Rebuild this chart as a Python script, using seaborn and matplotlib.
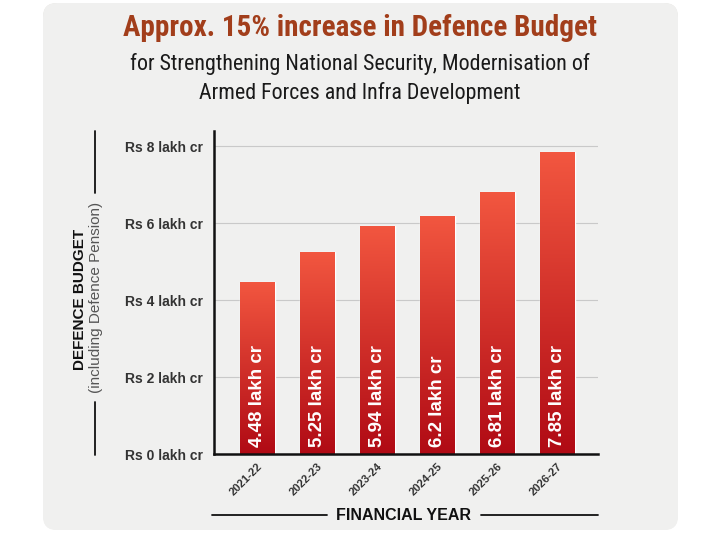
import numpy as np
import pandas as pd
import matplotlib.pyplot as plt
import seaborn as sns
from matplotlib.patches import FancyBboxPatch
from matplotlib.lines import Line2D

# chart data
years = ["2021-22", "2022-23", "2023-24", "2024-25", "2025-26", "2026-27"]
budget = [4.48, 5.25, 5.94, 6.2, 6.81, 7.85]
bar_labels = ["4.48 lakh cr", "5.25 lakh cr", "5.94 lakh cr", "6.2 lakh cr", "6.81 lakh cr", "7.85 lakh cr"]
y_ticks = [0, 2, 4, 6, 8]
y_ticklabels = ["Rs 0 lakh cr", "Rs 2 lakh cr", "Rs 4 lakh cr", "Rs 6 lakh cr", "Rs 8 lakh cr"]

df = pd.DataFrame({"year": years, "budget": budget})

sns.set_theme(style="white")
plt.rcParams["font.family"] = ["Liberation Sans", "DejaVu Sans"]
narrow = ["Roboto Condensed", "Liberation Sans Narrow", "Roboto", "DejaVu Sans"]

fig = plt.figure(figsize=(7.2, 5.44), dpi=100)
fig.patch.set_facecolor("white")

# background card
bg = fig.add_axes([0, 0, 1, 1], zorder=-5)
bg.axis("off")
card = FancyBboxPatch((43, 3), 635, 527, boxstyle="round,pad=0,rounding_size=14",
                      facecolor="#f0f0ef", edgecolor="none")
bg.add_patch(card)
grad = np.linspace(0, 1, 256)
cols = np.array([[0.90, 0.89, 0.87], [0.93, 0.93, 0.92], [0.95, 0.95, 0.95]])
img = np.empty((256, 1, 3))
for c in range(3):
    img[:, 0, c] = np.interp(grad, [0, 0.45, 1], cols[:, c])
im = bg.imshow(img, extent=(43, 678, 530, 3), aspect="auto", zorder=0)
im.set_clip_path(card)
bg.set_xlim(0, 720)
bg.set_ylim(544, 0)

ax = fig.add_axes([214 / 720, 1 - 454 / 544, (598 - 214) / 720, (454 - 131) / 544])
ax.patch.set_alpha(0)
sns.barplot(data=df, x="year", y="budget", color="#c8181f", width=0.58, ax=ax, zorder=3)

# red gradient on the bars
top_col = np.array([0.95, 0.34, 0.25])
bot_col = np.array([0.69, 0.04, 0.08])
g = np.linspace(0, 1, 256)
bar_img = (top_col[None, :] * (1 - g[:, None]) + bot_col[None, :] * g[:, None]).reshape(256, 1, 3)
for p in ax.patches:
    x0, w, h = p.get_x(), p.get_width(), p.get_height()
    b = ax.imshow(bar_img, extent=(x0, x0 + w, 0, h), aspect="auto", zorder=4)
    b.set_clip_path(p)
ax.set_xlim(-0.72, 5.68)
ax.set_ylim(0, 8.4)

for i, lab in enumerate(bar_labels):
    ax.text(i, 0.18, lab, rotation=90, ha="center", va="bottom", color="white",
            fontsize=13.5, fontweight="bold", zorder=5)

ax.set_yticks(y_ticks)
ax.set_yticklabels(y_ticklabels, fontsize=10, fontweight="bold", color="#333333")
ax.tick_params(axis="y", length=0, pad=8)
ax.tick_params(axis="x", length=0, pad=5)
ax.set_xticks(range(len(years)))
ax.set_xticklabels(years, rotation=45, ha="right", rotation_mode="anchor",
                   fontsize=8, fontweight="bold", color="#333333")

ax.yaxis.grid(True, color="#c9c9c9", linewidth=0.8, zorder=0)
ax.set_axisbelow(True)
for s in ["top", "right"]:
    ax.spines[s].set_visible(False)
for s in ["left", "bottom"]:
    ax.spines[s].set_color("#111111")
    ax.spines[s].set_linewidth(1.8)
    ax.spines[s].set_zorder(6)
ax.set_xlabel("")
ax.set_ylabel("")

# titles
fig.text(0.5, 1 - 28 / 544, "Approx. 15% increase in Defence Budget", ha="center", va="center",
         fontsize=21, fontweight="bold", color="#a23e1b", family=narrow)
fig.text(0.5, 1 - 64 / 544, "for Strengthening National Security, Modernisation of", ha="center",
         va="center", fontsize=15.8, color="#1a1a1a", family=narrow)
fig.text(0.5, 1 - 93 / 544, "Armed Forces and Infra Development", ha="center",
         va="center", fontsize=15.8, color="#1a1a1a", family=narrow)

# y axis title with lines
fig.text(80 / 720, 1 - 299 / 544, "DEFENCE BUDGET", rotation=90, ha="center", va="center",
         fontsize=11, fontweight="bold", color="#111111")
fig.text(96 / 720, 1 - 297 / 544, "(including Defence Pension)", rotation=90, ha="center", va="center",
         fontsize=11, color="#555555")
fig.add_artist(Line2D([95 / 720, 95 / 720], [1 - 131 / 544, 1 - 193 / 544], color="#111111", lw=1.3))
fig.add_artist(Line2D([95 / 720, 95 / 720], [1 - 402 / 544, 1 - 455 / 544], color="#111111", lw=1.3))

# x axis title with lines
fig.text(404 / 720, 1 - 516 / 544, "FINANCIAL YEAR", ha="center", va="center",
         fontsize=11.5, fontweight="bold", color="#111111")
fig.add_artist(Line2D([212 / 720, 327 / 720], [1 - 515 / 544] * 2, color="#111111", lw=1.3))
fig.add_artist(Line2D([481 / 720, 598 / 720], [1 - 515 / 544] * 2, color="#111111", lw=1.3))

fig.savefig("out.png", dpi=100)
